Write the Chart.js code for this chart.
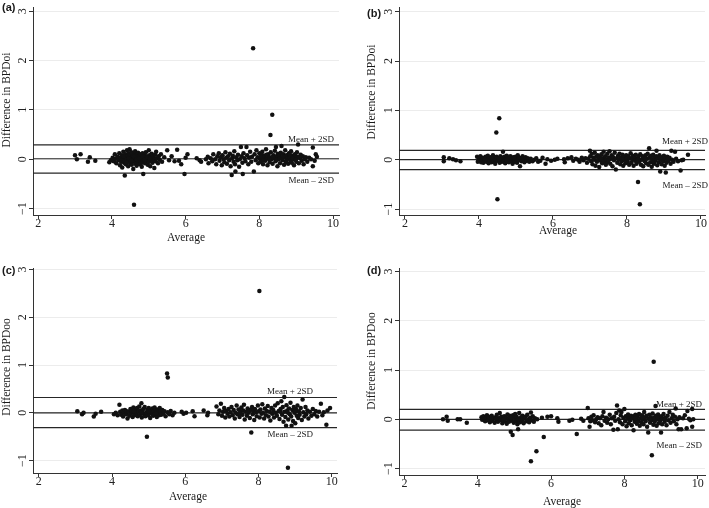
<!DOCTYPE html>
<html>
<head>
<meta charset="utf-8">
<script src="https://cdn.jsdelivr.net/npm/chart.js@4.4.1/dist/chart.umd.min.js"></script>
<style>
  body { margin: 0; background: #fff; width: 709px; height: 508px; position: relative; overflow: hidden; }
  canvas { position: absolute; }
</style>
</head>
<body>
<canvas id="chartA" width="354" height="250" style="left:0;top:0"></canvas>
<canvas id="chartB" width="354" height="250" style="left:355px;top:0"></canvas>
<canvas id="chartC" width="354" height="258" style="left:0;top:250px"></canvas>
<canvas id="chartD" width="354" height="258" style="left:355px;top:250px"></canvas>
<script>
// tick labels and texts
var xTicks = [2, 4, 6, 8, 10];
var yTicks = [-1, 0, 1, 2, 3];
var panelLetters = ['(a)', '(b)', '(c)', '(d)'];
var yTitles = ['Difference in BPDoi', 'Difference in BPDoi', 'Difference in BPDoo', 'Difference in BPDoo'];
var xTitle = 'Average';
var upperLabel = 'Mean + 2SD';
var lowerLabel = 'Mean \u2013 2SD';

// upper limit, mean, lower limit
var limitsA = [0.29, 0.01, -0.28];
var limitsB = [0.19, 0.0, -0.2];
var limitsC = [0.32, 0.0, -0.31];
var limitsD = [0.2, 0.0, -0.22];

// [average, difference]
var pointsA = [
  [3.0,0.08],[3.05,0.0],[3.15,0.1],[3.35,-0.05],[3.4,0.04],[3.55,-0.03],[3.93,-0.06],[3.97,-0.02],[4.02,0.03],[4.05,-0.04],[4.08,0.1],[4.1,0.01],
  [4.12,-0.08],[4.15,0.05],[4.18,-0.02],[4.2,0.12],[4.22,-0.12],[4.24,0.03],[4.25,-0.05],[4.27,0.08],[4.28,-0.17],[4.3,0.0],[4.31,0.15],[4.33,-0.07],
  [4.34,0.05],[4.35,-0.33],[4.36,-0.02],[4.37,0.1],[4.38,-0.1],[4.4,0.02],[4.41,0.18],[4.42,-0.05],[4.43,0.07],[4.44,-0.14],[4.45,0.0],[4.46,0.12],
  [4.47,-0.03],[4.48,0.2],[4.49,0.04],[4.5,-0.08],[4.51,0.09],[4.52,-0.01],[4.53,0.14],[4.54,-0.11],[4.55,0.03],[4.56,-0.05],[4.57,0.06],[4.58,-0.2],
  [4.59,0.01],[4.6,-0.92],[4.61,0.11],[4.62,-0.04],[4.63,0.16],[4.64,-0.09],[4.65,0.02],[4.66,0.08],[4.67,-0.13],[4.68,0.04],[4.7,-0.02],[4.71,0.13],
  [4.72,-0.07],[4.73,0.05],[4.75,-0.1],[4.76,0.01],[4.77,0.1],[4.78,-0.04],[4.8,0.07],[4.81,-0.15],[4.82,0.0],[4.83,0.12],[4.85,-0.3],[4.86,-0.06],
  [4.87,0.04],[4.88,0.09],[4.9,-0.08],[4.91,0.02],[4.92,0.14],[4.94,-0.03],[4.95,0.06],[4.97,-0.11],[4.98,0.0],[5.0,0.18],[5.01,-0.05],[5.02,0.08],
  [5.04,-0.14],[5.05,0.03],[5.07,-0.02],[5.08,0.11],[5.1,-0.07],[5.12,0.05],[5.14,0.0],[5.15,-0.18],[5.17,0.09],[5.19,-0.04],[5.2,0.15],[5.22,0.02],
  [5.25,-0.08],[5.27,0.06],[5.3,-0.01],[5.33,0.1],[5.36,-0.05],
  [4.32,0.06],[4.39,-0.06],[4.46,0.02],[4.53,-0.03],[4.6,0.05],[4.67,0.0],[4.74,0.02],[4.79,-0.08],[4.84,0.05],[4.89,-0.01],[4.96,0.04],[5.03,0.01],
  [5.42,0.04],[5.5,0.18],[5.55,-0.02],[5.62,0.06],[5.7,-0.04],[5.77,0.19],[5.82,-0.03],[5.88,-0.1],[5.97,-0.3],[6.0,0.03],[6.05,0.1],
  [6.3,0.02],[6.38,-0.02],[6.42,-0.05],[6.55,0.0],[6.6,0.05],[6.62,-0.08],[6.68,0.02],[6.72,-0.04],[6.75,0.1],[6.8,0.0],[6.83,-0.1],[6.86,0.06],
  [6.9,0.12],[6.92,-0.03],[6.95,0.04],[6.98,-0.12],[7.0,0.08],[7.03,0.0],[7.05,-0.06],[7.08,0.14],[7.1,0.03],[7.12,-0.09],[7.15,0.06],[7.18,-0.02],
  [7.2,0.11],[7.22,-0.14],[7.25,-0.32],[7.26,0.02],[7.28,0.07],[7.3,-0.05],[7.32,0.16],[7.34,-0.1],[7.35,-0.25],[7.37,0.04],[7.4,-0.02],[7.42,0.09],
  [7.45,-0.15],[7.47,0.0],[7.5,0.25],[7.52,0.06],[7.54,-0.07],[7.55,-0.3],[7.57,0.12],[7.6,0.02],[7.62,-0.04],[7.65,0.25],[7.67,0.08],[7.7,-0.1],
  [7.72,0.03],[7.75,0.15],[7.78,-0.05],[7.8,0.05],[7.83,2.25],[7.85,-0.25],[7.87,0.1],[7.9,-0.02],[7.92,0.18],[7.95,0.04],[7.97,-0.08],[8.0,0.12],
  [8.02,0.0],[8.04,-0.05],[8.06,0.09],[8.08,0.15],[8.1,-0.1],[8.12,0.03],[8.14,0.07],[8.16,-0.03],[8.18,0.2],[8.2,0.01],[8.22,-0.12],[8.24,0.1],
  [8.26,0.05],[8.28,-0.06],[8.3,0.49],[8.31,0.14],[8.33,0.0],[8.35,0.9],[8.36,-0.09],[8.38,0.08],[8.4,0.02],[8.42,0.17],[8.44,-0.04],[8.45,0.25],
  [8.47,0.06],[8.49,-0.14],[8.5,0.11],[8.52,0.0],[8.54,0.07],[8.56,-0.08],[8.58,0.13],[8.6,0.27],[8.61,0.03],[8.63,-0.02],[8.65,0.1],[8.67,-0.11],
  [8.69,0.05],[8.7,0.18],[8.72,-0.05],[8.74,0.08],[8.76,0.01],[8.78,-0.09],[8.8,0.12],[8.82,0.04],[8.84,-0.03],[8.86,0.16],[8.88,-0.07],[8.9,0.07],
  [8.92,0.0],[8.94,-0.12],[8.96,0.1],[8.98,0.03],[9.0,-0.05],[9.02,0.14],[9.04,0.05],[9.05,0.3],[9.07,-0.08],[9.1,0.02],[9.12,0.09],[9.15,-0.03],
  [9.18,0.06],[9.2,-0.1],[9.23,0.0],[9.26,0.04],[9.3,-0.05],[9.35,0.03],[9.4,0.0],[9.45,0.24],[9.45,-0.14],[9.5,-0.03],[9.53,0.1],[9.56,0.05],
  [8.03,0.05],[8.11,-0.02],[8.19,0.09],[8.27,0.0],[8.37,0.04],[8.46,-0.01],[8.55,0.02],[8.64,0.05],[8.73,-0.02],[8.83,0.09],[8.91,0.02],[8.99,-0.01],[9.08,0.04]
];

var pointsB = [
  [3.05,0.05],[3.05,-0.03],[3.2,0.03],[3.3,0.01],[3.38,-0.01],[3.5,-0.03],
  [3.95,0.06],[3.97,-0.04],[4.0,0.02],[4.02,-0.02],[4.04,0.07],[4.06,-0.05],[4.08,0.0],[4.1,0.04],[4.12,-0.06],[4.14,0.03],[4.16,-0.01],[4.18,0.06],
  [4.2,-0.04],[4.22,0.01],[4.24,0.08],[4.26,-0.07],[4.28,0.02],[4.3,-0.02],[4.32,0.05],[4.34,-0.05],[4.36,0.0],[4.38,0.09],[4.4,-0.03],[4.42,0.04],
  [4.44,-0.08],[4.45,0.01],[4.47,0.55],[4.48,0.06],[4.5,-0.8],[4.51,-0.02],[4.53,0.03],[4.55,0.84],[4.56,-0.06],[4.58,0.07],[4.6,0.0],[4.62,-0.04],
  [4.64,0.04],[4.65,0.16],[4.67,-0.03],[4.69,0.06],[4.71,-0.07],[4.73,0.02],[4.75,0.08],[4.77,-0.02],[4.79,0.04],[4.81,-0.05],[4.83,0.01],[4.85,0.07],
  [4.87,-0.03],[4.89,0.03],[4.91,-0.08],[4.93,0.05],[4.95,0.0],[4.97,-0.04],[4.99,0.06],[5.01,0.02],[5.03,-0.06],[5.05,0.09],[5.07,-0.01],[5.09,0.04],
  [5.11,-0.13],[5.13,0.03],[5.15,-0.03],[5.18,0.07],[5.2,0.0],[5.23,-0.05],[5.26,0.05],[5.29,-0.02],[5.32,0.03],[5.36,-0.04],[5.4,0.02],
  [4.15,0.02],[4.35,0.04],[4.55,0.01],[4.75,-0.01],[4.95,0.04],
  [5.45,-0.03],[5.5,0.0],[5.55,0.03],[5.6,-0.04],[5.66,-0.02],[5.72,0.04],[5.8,-0.08],[5.85,0.01],[5.95,-0.02],[6.05,0.0],[6.12,0.02],
  [6.3,0.01],[6.32,-0.05],[6.4,0.03],[6.5,0.05],[6.55,-0.02],[6.62,0.02],[6.68,0.0],[6.72,-0.04],[6.78,0.04],[6.82,-0.01],[6.88,0.03],[6.92,-0.06],
  [6.96,0.02],[7.0,0.18],[7.01,0.07],[7.03,-0.03],[7.05,0.12],[7.07,-0.09],[7.09,0.04],[7.11,0.0],[7.13,0.14],[7.15,-0.12],[7.17,0.06],[7.19,-0.04],
  [7.21,0.09],[7.23,0.01],[7.25,-0.15],[7.27,0.05],[7.29,-0.02],[7.31,0.11],[7.33,-0.07],[7.35,0.03],[7.37,0.16],[7.39,-0.03],[7.41,0.07],[7.43,-0.1],
  [7.45,0.0],[7.47,0.12],[7.49,-0.05],[7.51,0.04],[7.53,0.17],[7.55,-0.08],[7.57,0.02],[7.59,0.09],[7.61,-0.13],[7.63,0.05],[7.65,-0.01],[7.67,0.14],
  [7.7,-0.2],[7.72,0.03],[7.74,-0.06],[7.76,0.08],[7.78,0.0],[7.8,0.12],[7.82,-0.09],[7.84,0.04],[7.86,-0.03],[7.88,0.1],[7.9,-0.12],[7.92,0.06],
  [7.94,0.0],[7.96,-0.07],[7.98,0.09],[8.0,0.02],[8.02,-0.04],[8.04,0.07],[8.06,-0.1],[8.08,0.03],[8.1,0.13],[8.12,-0.06],[8.14,0.01],[8.16,0.08],
  [8.18,-0.12],[8.2,0.04],[8.22,-0.02],[8.24,0.1],[8.26,-0.08],[8.28,0.02],[8.3,-0.45],[8.31,0.06],[8.33,-0.04],[8.35,-0.9],[8.36,0.11],[8.38,-0.1],
  [8.4,0.0],[8.42,0.07],[8.44,-0.13],[8.46,0.04],[8.48,-0.03],[8.5,0.09],[8.52,-0.07],[8.54,0.02],[8.56,0.12],[8.58,-0.1],[8.6,0.23],[8.61,0.05],
  [8.63,-0.05],[8.65,0.08],[8.67,-0.14],[8.69,0.01],[8.71,0.1],[8.73,-0.08],[8.75,0.04],[8.77,-0.02],[8.79,0.07],[8.8,0.18],[8.82,-0.11],[8.84,0.03],
  [8.86,-0.05],[8.88,0.09],[8.9,-0.24],[8.92,0.0],[8.94,-0.09],[8.96,0.05],[8.98,-0.03],[9.0,0.08],[9.02,-0.12],[9.04,0.02],[9.05,-0.26],[9.07,-0.06],
  [9.09,0.06],[9.12,-0.02],[9.15,0.04],[9.18,-0.08],[9.2,0.18],[9.22,0.0],[9.26,-0.04],[9.3,0.16],[9.33,0.02],[9.38,-0.03],[9.45,-0.22],[9.48,-0.01],
  [9.52,0.0],[9.65,0.1],
  [7.3,0.02],[7.5,-0.01],[8.3,0.01],[8.5,0.02],[8.7,-0.03],[8.9,0.04],[9.1,0.01]
];

var pointsC = [
  [3.05,0.03],[3.18,-0.03],[3.22,0.0],[3.5,-0.08],[3.55,-0.02],[3.7,0.02],
  [4.05,-0.03],[4.1,0.0],[4.15,-0.05],[4.2,0.17],[4.22,0.02],[4.25,-0.04],[4.28,0.05],[4.3,-0.08],[4.33,0.0],[4.35,0.06],[4.38,-0.03],[4.4,0.03],
  [4.42,-0.12],[4.45,0.02],[4.47,-0.06],[4.5,0.08],[4.52,-0.01],[4.54,0.04],[4.56,-0.09],[4.58,0.11],[4.6,0.0],[4.62,-0.05],[4.64,0.06],[4.66,-0.02],
  [4.68,0.1],[4.7,-0.07],[4.72,0.03],[4.74,0.13],[4.76,-0.04],[4.78,0.05],[4.8,0.2],[4.81,-0.1],[4.83,0.02],[4.85,0.08],[4.87,-0.03],[4.89,0.12],
  [4.91,-0.07],[4.93,0.0],[4.95,-0.5],[4.96,0.06],[4.98,-0.05],[5.0,0.1],[5.02,0.01],[5.04,-0.11],[5.06,0.05],[5.08,-0.02],[5.1,0.09],[5.12,-0.06],
  [5.14,0.03],[5.16,0.11],[5.18,-0.03],[5.2,0.04],[5.22,-0.09],[5.24,0.07],[5.26,0.0],[5.28,-0.05],[5.3,0.1],[5.32,0.02],[5.34,-0.04],[5.37,0.06],
  [5.4,-0.02],[5.43,0.03],[5.46,-0.07],[5.5,0.82],[5.52,0.74],[5.52,0.01],[5.56,-0.03],[5.6,0.04],[5.65,-0.05],[5.7,0.0],
  [4.6,0.03],[4.8,0.0],[5.0,0.03],[5.2,-0.01],
  [5.9,0.02],[5.95,-0.02],[6.02,0.0],[6.2,0.03],[6.25,-0.07],[6.5,0.05],[6.6,-0.05],[6.62,0.0],
  [6.85,0.13],[6.9,-0.03],[6.93,0.05],[6.97,0.19],[7.0,-0.06],[7.03,0.02],[7.06,0.1],[7.09,-0.1],[7.12,0.04],[7.15,-0.02],[7.18,0.08],[7.2,-0.08],
  [7.23,0.01],[7.26,0.12],[7.29,-0.05],[7.32,0.06],[7.35,-0.12],[7.37,0.0],[7.4,0.15],[7.42,-0.03],[7.45,0.07],[7.48,-0.09],[7.5,0.03],[7.53,0.11],
  [7.56,-0.04],[7.58,0.05],[7.6,0.17],[7.62,-0.14],[7.65,0.02],[7.68,-0.06],[7.7,0.09],[7.73,0.0],[7.76,-0.11],[7.78,0.06],[7.8,-0.41],[7.82,0.12],
  [7.84,-0.03],[7.86,0.04],[7.88,-0.15],[7.9,0.08],[7.93,0.01],[7.95,-0.07],[7.98,0.15],[8.0,0.03],[8.02,2.55],[8.03,-0.1],[8.05,0.07],[8.08,-0.02],
  [8.1,0.18],[8.12,0.0],[8.15,-0.12],[8.17,0.09],[8.2,-0.05],[8.22,0.04],[8.25,0.14],[8.27,-0.08],[8.3,0.02],[8.32,-0.16],[8.35,0.1],[8.37,-0.02],
  [8.4,0.06],[8.42,-0.1],[8.45,0.15],[8.47,0.0],[8.5,-0.06],[8.52,0.2],[8.55,0.04],[8.57,-0.13],[8.6,0.08],[8.62,0.24],[8.64,-0.04],[8.66,0.12],
  [8.68,-0.19],[8.7,0.33],[8.71,0.02],[8.73,-0.09],[8.75,-0.27],[8.76,0.16],[8.78,0.05],[8.8,-1.15],[8.81,-0.14],[8.83,0.09],[8.85,-0.03],[8.87,0.21],
  [8.89,-0.08],[8.9,-0.27],[8.92,0.06],[8.94,-0.17],[8.96,0.12],[8.98,0.0],[9.0,-0.22],[9.02,0.08],[9.04,-0.06],[9.06,0.15],[9.08,-0.11],[9.1,0.03],
  [9.12,-0.04],[9.15,0.1],[9.18,-0.15],[9.2,0.28],[9.22,0.01],[9.25,-0.08],[9.28,0.12],[9.3,-0.03],[9.33,0.05],[9.36,-0.12],[9.4,0.02],[9.44,-0.06],
  [9.48,0.08],[9.52,-0.03],[9.56,0.04],[9.6,-0.08],[9.65,0.02],[9.7,0.19],[9.74,-0.05],[9.78,0.01],[9.85,-0.25],[9.88,0.05],[9.95,0.1],
  [7.5,-0.01],[7.7,0.03],[8.4,0.0],[8.6,0.02],[8.8,0.0],[9.0,0.03]
];

var pointsD = [
  [3.05,0.0],[3.15,0.05],[3.18,-0.03],[3.45,0.0],[3.52,0.0],[3.7,-0.07],
  [4.1,0.04],[4.12,-0.01],[4.15,0.06],[4.18,0.0],[4.2,-0.04],[4.23,0.03],[4.25,0.08],[4.28,-0.02],[4.3,0.05],[4.33,-0.06],[4.36,0.01],[4.38,0.07],
  [4.4,-0.03],[4.43,0.02],[4.46,-0.07],[4.48,0.04],[4.5,0.0],[4.52,0.09],[4.55,-0.05],[4.57,0.02],[4.6,0.13],[4.62,-0.02],[4.64,0.05],[4.67,-0.08],
  [4.69,0.01],[4.72,0.06],[4.74,-0.04],[4.77,0.03],[4.79,-0.09],[4.81,0.1],[4.83,0.0],[4.85,-0.05],[4.87,0.07],[4.9,-0.25],[4.91,0.02],[4.93,-0.03],
  [4.95,-0.32],[4.96,0.08],[4.98,-0.07],[5.0,0.03],[5.02,0.11],[5.04,-0.04],[5.06,0.05],[5.08,-0.1],[5.1,-0.2],[5.11,0.01],[5.13,0.13],[5.15,-0.06],
  [5.18,0.04],[5.2,-0.02],[5.22,0.07],[5.25,-0.08],[5.27,0.02],[5.3,0.05],[5.32,-0.04],[5.35,0.09],[5.38,0.0],[5.4,-0.06],[5.43,0.03],[5.45,0.14],
  [5.45,-0.85],[5.47,-0.02],[5.5,0.06],[5.53,-0.05],[5.56,0.02],[5.6,-0.65],[5.62,0.0],[5.8,-0.36],
  [4.5,0.02],[4.7,-0.01],[4.9,0.03],[5.1,0.0],
  [5.75,0.03],[5.9,0.05],[6.0,0.06],[6.17,0.02],[6.2,-0.05],[6.5,-0.03],[6.58,-0.01],[6.7,-0.3],[6.82,0.01],[6.88,-0.03],
  [7.0,0.23],[7.02,0.02],[7.05,-0.15],[7.07,-0.04],[7.1,0.05],[7.13,-0.02],[7.16,0.08],[7.2,-0.06],[7.23,0.0],[7.27,0.04],[7.3,-0.08],[7.33,0.02],
  [7.37,-0.12],[7.4,0.06],[7.43,0.15],[7.46,-0.03],[7.5,0.03],[7.53,-0.07],[7.56,0.0],[7.6,0.09],[7.63,-0.1],[7.66,0.02],[7.7,-0.21],[7.72,0.05],
  [7.75,-0.03],[7.78,0.13],[7.8,0.28],[7.82,-0.2],[7.84,0.0],[7.86,0.18],[7.88,-0.06],[7.9,0.08],[7.92,0.15],[7.95,-0.1],[7.97,0.03],[8.0,0.21],
  [8.02,-0.04],[8.04,0.06],[8.06,-0.14],[8.08,0.01],[8.1,0.1],[8.12,-0.08],[8.14,0.04],[8.16,-0.02],[8.18,0.07],[8.2,-0.12],[8.22,0.02],[8.25,-0.22],
  [8.26,0.06],[8.28,-0.05],[8.3,0.09],[8.32,0.0],[8.34,-0.09],[8.36,0.05],[8.38,-0.03],[8.4,0.11],[8.42,-0.13],[8.44,0.02],[8.46,-0.06],[8.48,0.08],
  [8.5,0.0],[8.52,-0.1],[8.54,0.15],[8.56,0.03],[8.58,-0.04],[8.6,0.07],[8.62,-0.15],[8.65,-0.27],[8.66,0.01],[8.68,0.09],[8.7,-0.07],[8.72,0.04],
  [8.74,-0.02],[8.75,-0.73],[8.77,0.12],[8.79,-0.11],[8.8,1.17],[8.81,0.03],[8.83,-0.05],[8.85,0.27],[8.86,0.07],[8.88,-0.13],[8.9,0.0],[8.92,0.1],
  [8.94,-0.08],[8.96,0.04],[8.98,-0.03],[9.0,-0.27],[9.01,0.06],[9.03,-0.1],[9.05,0.01],[9.07,0.11],[9.1,-0.05],[9.12,0.03],[9.15,-0.12],[9.18,0.07],
  [9.2,-0.02],[9.23,0.15],[9.26,-0.07],[9.29,0.02],[9.32,0.09],[9.35,-0.04],[9.38,0.05],[9.4,0.22],[9.42,-0.1],[9.45,0.0],[9.48,-0.2],[9.5,0.04],
  [9.55,-0.2],[9.6,0.02],[9.65,0.08],[9.7,-0.18],[9.72,0.17],[9.76,0.01],[9.8,-0.02],[9.85,0.21],[9.85,-0.15],[9.88,0.0],
  [8.3,0.02],[8.5,0.04],[8.7,0.0],[8.9,0.03],[9.1,0.0]
];

var serif = '"Liberation Serif", "Times New Roman", serif';

// canvas-space layout of each panel
var layouts = [
  { pad: { top: 4, right: 15 }, yw: 33, xh: 35, x: [1.86, 10.16], y: [-1.13, 3.08],
    letter: [2, 8], yTitle: [7, 100], xTitle: [186, 238], labelRight: 334, labelDy: [-5, 8] },
  { pad: { top: 5, right: 2 }, yw: 44, xh: 35, x: [1.84, 10.11], y: [-1.12, 3.09],
    letter: [12, 14], yTitle: [17, 92], xTitle: [203, 231], labelRight: 353, labelDy: [-9, 16] },
  { pad: { top: 18, right: 17 }, yw: 33, xh: 35, x: [1.84, 10.14], y: [-1.26, 3.03],
    letter: [2, 21], yTitle: [7, 117], xTitle: [188, 247], labelRight: 313, labelDy: [-6, 7] },
  { pad: { top: 18, right: 1 }, yw: 44, xh: 33, x: [1.85, 10.2], y: [-1.13, 3.07],
    letter: [12, 21], yTitle: [17, 111], xTitle: [207, 252], labelRight: 347, labelDy: [-5, 15] }
];

var panelText = {
  id: 'panelText',
  afterDraw: function (chart) {
    var o = chart.options.plugins.panelText;
    var lay = o.layout;
    var ctx = chart.ctx;
    var ys = chart.scales.y;
    ctx.save();
    ctx.fillStyle = '#1a1a1a';
    ctx.textBaseline = 'middle';
    ctx.font = 'bold 11px "Liberation Sans", Arial, sans-serif';
    ctx.textAlign = 'left';
    ctx.fillText(o.letter, lay.letter[0], lay.letter[1]);

    ctx.font = '11.5px ' + serif;
    ctx.textAlign = 'center';
    ctx.fillText(xTitle, lay.xTitle[0], lay.xTitle[1]);
    ctx.save();
    ctx.translate(lay.yTitle[0], lay.yTitle[1]);
    ctx.rotate(-Math.PI / 2);
    ctx.fillText(o.yTitle, 0, 0);
    ctx.restore();

    ctx.font = '9px ' + serif;
    ctx.textAlign = 'right';
    ctx.fillText(upperLabel, lay.labelRight, ys.getPixelForValue(o.limits[0]) + lay.labelDy[0]);
    ctx.fillText(lowerLabel, lay.labelRight, ys.getPixelForValue(o.limits[2]) + lay.labelDy[1]);
    ctx.restore();
  }
};

function limitLine(v, lay) {
  return {
    type: 'line',
    data: [{ x: lay.x[0], y: v }, { x: lay.x[1], y: v }],
    borderColor: '#262626',
    borderWidth: 1.2,
    pointRadius: 0,
    fill: false
  };
}

function makePanel(id, points, limits, idx) {
  var lay = layouts[idx];
  var ctx = document.getElementById(id);
  var datasets = [{
    type: 'scatter',
    data: points.map(function (p) { return { x: p[0], y: p[1] }; }),
    backgroundColor: '#111',
    borderWidth: 0,
    pointRadius: 2.25
  }];
  limits.forEach(function (v) { datasets.push(limitLine(v, lay)); });

  return new Chart(ctx, {
    type: 'scatter',
    data: { datasets: datasets },
    plugins: [panelText],
    options: {
      responsive: false,
      animation: false,
      devicePixelRatio: 1,
      layout: { padding: { left: 0, top: lay.pad.top, right: lay.pad.right, bottom: 0 } },
      plugins: {
        legend: { display: false },
        tooltip: { enabled: false },
        panelText: { layout: lay, letter: panelLetters[idx], yTitle: yTitles[idx], limits: limits }
      },
      scales: {
        x: {
          type: 'linear',
          min: lay.x[0],
          max: lay.x[1],
          afterBuildTicks: function (s) { s.ticks = xTicks.map(function (v) { return { value: v }; }); },
          afterFit: function (s) { s.height = lay.xh; },
          grid: { drawOnChartArea: false, drawTicks: true, tickLength: 4, tickColor: '#333' },
          border: { display: true, color: '#333', width: 1 },
          ticks: { maxRotation: 0, padding: -2, color: '#222', font: { family: serif, size: 12 } }
        },
        y: {
          type: 'linear',
          min: lay.y[0],
          max: lay.y[1],
          afterBuildTicks: function (s) { s.ticks = yTicks.map(function (v) { return { value: v }; }); },
          afterFit: function (s) { s.width = lay.yw; },
          grid: { color: '#ececec', lineWidth: 1, drawTicks: true, tickLength: 4, tickColor: '#333' },
          border: { display: true, color: '#333', width: 1 },
          ticks: {
            minRotation: 90, maxRotation: 90, crossAlign: 'center', padding: 0,
            color: '#222', font: { family: serif, size: 12 },
            callback: function (v) { return v < 0 ? '\u2212' + Math.abs(v) : String(v); }
          }
        }
      }
    }
  });
}

makePanel('chartA', pointsA, limitsA, 0);
makePanel('chartB', pointsB, limitsB, 1);
makePanel('chartC', pointsC, limitsC, 2);
makePanel('chartD', pointsD, limitsD, 3);
</script>
</body>
</html>
